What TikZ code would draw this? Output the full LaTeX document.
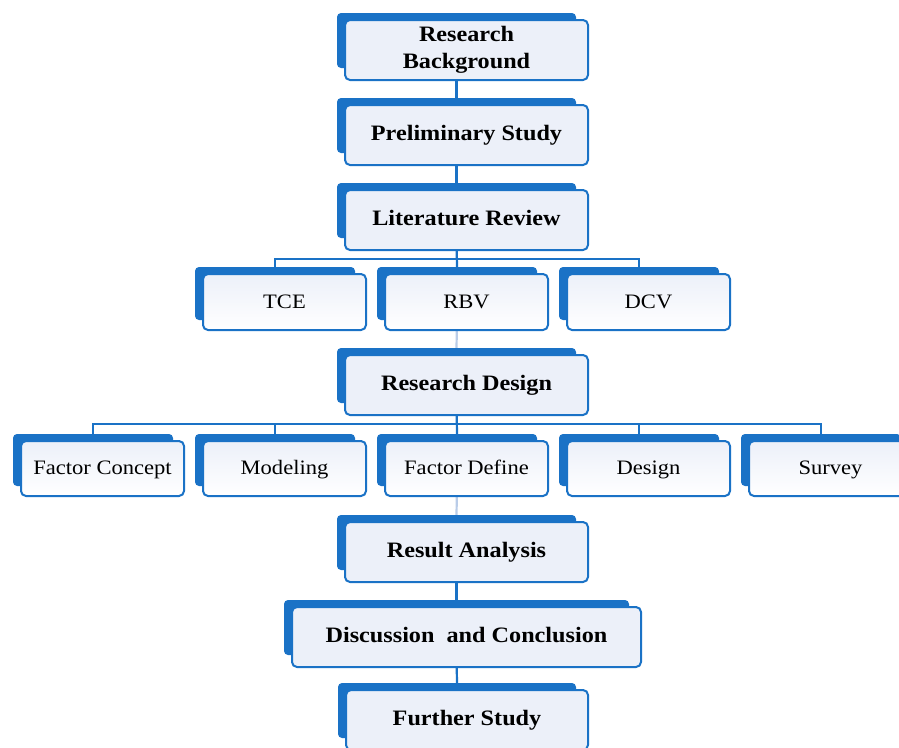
\documentclass[tikz,border=0pt]{standalone}
\usepackage{fontspec}
\setmainfont{Liberation Serif}[FakeStretch=1.1]
\usetikzlibrary{backgrounds}
\definecolor{bl}{HTML}{1A72C6}
\definecolor{lf}{HTML}{ECF0F9}
\definecolor{faintc}{HTML}{B9CCE8}
\tikzset{
  backbox/.style={fill=bl, rounded corners=4pt, inner sep=0pt},
  mainbox/.style={draw=bl, line width=2pt, fill=lf, rounded corners=5pt, inner sep=0pt,
     align=center, font=\bfseries\fontsize{22}{27}\selectfont},
  mainone/.style={mainbox, text height=15pt, text depth=4pt},
  subbox/.style={draw=bl, line width=2pt, top color=lf, bottom color=white, rounded corners=5pt,
     inner sep=0pt, align=center, font=\fontsize{20.5}{24}\selectfont,
     text height=14pt, text depth=2pt},
  ln/.style={draw=bl, line width=2.2pt},
  faint/.style={draw=faintc, line width=2.2pt}
}
% name, x1, y1, x2, y2, style, text, back-right-inset, back-bottom-inset
\newcommand{\bx}[9]{%
  \node[backbox, minimum width={#4-#2+8-#8}, minimum height={#5-#3-#9+7}]
     (#1b) at ({(#2-8+#4-#8)/2},{(#3-7+#5-#9)/2}) {};
  \node[#6, minimum width={#4-#2}, minimum height={#5-#3}]
     (#1) at ({(#2+#4)/2},{(#3+#5)/2}) {#7};
}
\begin{document}
\begin{tikzpicture}[x=1pt,y=-1pt]
\useasboundingbox (0,0) rectangle (899,747);
\clip (0,0) rectangle (899,747);
% main column
\bx{rbg}{345}{20}{588}{80}{mainbox}{Research\\Background}{12}{12}
\bx{ps}{345}{105}{588}{165}{mainone}{Preliminary Study}{12}{12}
\bx{lr}{345}{190}{588}{250}{mainone}{Literature Review}{12}{12}
% row 1
\bx{tce}{203}{274}{366}{330}{subbox}{TCE}{11}{10}
\bx{rbv}{385}{274}{548}{330}{subbox}{RBV}{11}{10}
\bx{dcv}{567}{274}{730}{330}{subbox}{DCV}{11}{10}
\bx{rd}{345}{355}{588}{415}{mainone}{Research Design}{12}{12}
% row 2
\bx{fc}{21}{441}{184}{496}{subbox}{Factor Concept}{11}{10}
\bx{mo}{203}{441}{366}{496}{subbox}{Modeling}{11}{10}
\bx{fd}{385}{441}{548}{496}{subbox}{Factor Define}{11}{10}
\bx{de}{567}{441}{730}{496}{subbox}{Design}{11}{10}
\bx{su}{749}{441}{912}{496}{subbox}{Survey}{11}{10}
\bx{ra}{345}{522}{588}{582}{mainone}{Result Analysis}{12}{12}
\bx{dc}{292}{607}{641}{667}{mainone}{Discussion~~and Conclusion}{12}{12}
\bx{fs}{346}{690}{588}{750}{mainone}{Further Study}{12}{12}
\begin{scope}[on background layer]
  \draw[ln] (rbgb.south) -- (psb.north);
  \draw[ln] (psb.south) -- (lrb.north);
  \draw[ln] (lrb.south) -- (rbvb.north);
  \draw[ln] (tceb.north) -- ++(0,-8) -| (dcvb.north);
  \draw[faint] (rbvb.south) -- (rdb.north);
  \draw[ln] (rdb.south) -- (fdb.north);
  \draw[ln] (fcb.north) -- ++(0,-10) -| (sub.north);
  \draw[ln] (mob.north) -- ++(0,-10);
  \draw[ln] (deb.north) -- ++(0,-10);
  \draw[faint] (fdb.south) -- (rab.north);
  \draw[ln] (rab.south) -- (dcb.north);
  \draw[ln] (dcb.south) -- (fsb.north);
\end{scope}
\end{tikzpicture}
\end{document}
